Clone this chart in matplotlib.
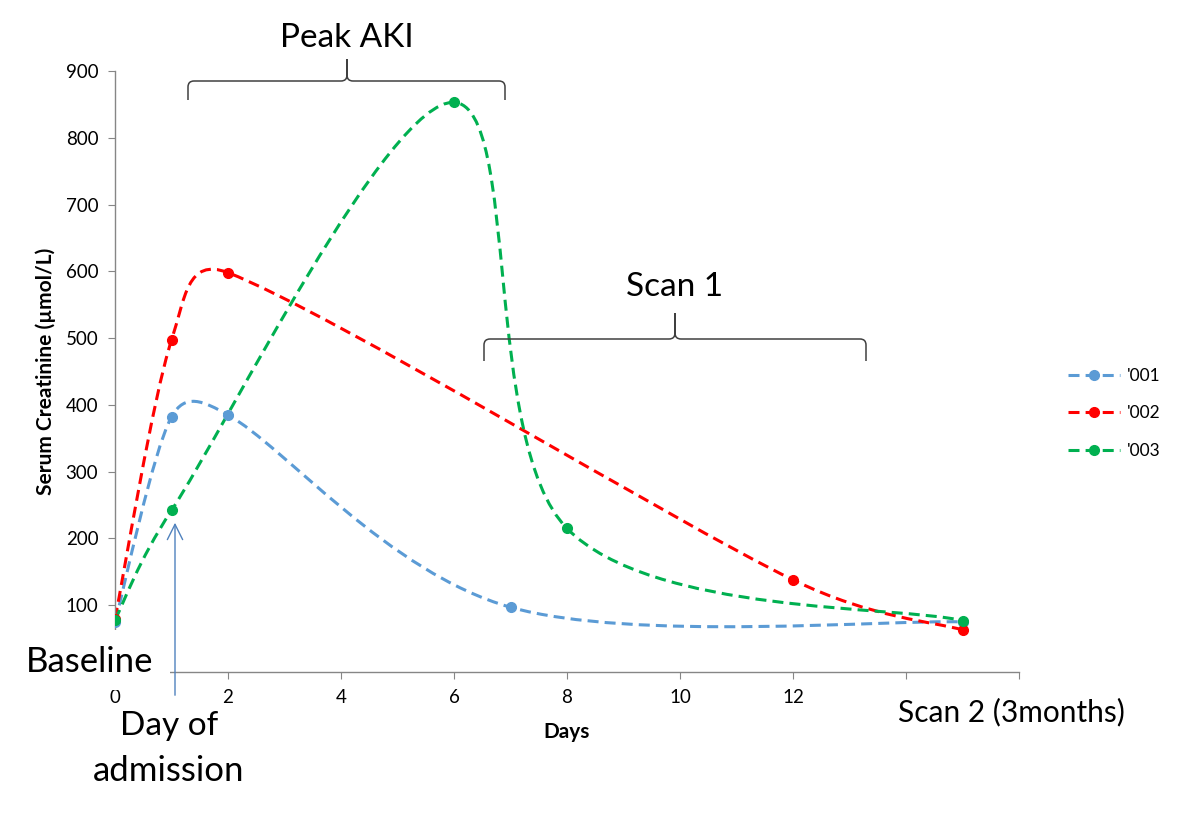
import numpy as np
import matplotlib
matplotlib.use('Agg')
import matplotlib.pyplot as plt
from matplotlib.path import Path
from matplotlib.patches import PathPatch, Rectangle
from matplotlib.lines import Line2D

plt.rcParams['font.family'] = ['Lato', 'DejaVu Sans']

# data
days_001 = [0, 1, 2, 7, 15]
creat_001 = [75, 382, 385, 97, 75]
days_002 = [0, 1, 2, 12, 15]
creat_002 = [80, 497, 598, 138, 63]
days_003 = [0, 1, 6, 8, 15]
creat_003 = [78, 242, 853, 215, 77]
series_names = ["'001", "'002", "'003"]
colors = ['#5b9bd5', '#ff0000', '#00b050']

x_ticks = [0, 2, 4, 6, 8, 10, 12, 14, 16]
x_labels = ['0', '2', '4', '6', '8', '10', '12', '', '']  # 14, 16 sit under the "Scan 2" box
y_ticks = [0, 100, 200, 300, 400, 500, 600, 700, 800, 900]
y_labels = ['', '100', '200', '300', '400', '500', '600', '700', '800', '900']  # 0 hidden by "Baseline"

W, H = 1180, 816


def fpx(x, y):
    # pixel position in the picture -> figure fraction
    return x / W, 1 - y / H


fig = plt.figure(figsize=(W / 100, H / 100), dpi=100)
ax = fig.add_axes([115 / W, 1 - 672 / H, (1019 - 115) / W, (672 - 71) / H])
ax.set_xlim(0, 16)
ax.set_ylim(0, 900)


def excel_smooth(xs, ys):
    # bezier smoothing like Excel's "smoothed line", worked out in screen space
    pts = ax.transData.transform(np.column_stack([xs, ys]).astype(float))
    n = len(pts)
    verts = [pts[0]]
    codes = [Path.MOVETO]
    for i in range(n - 1):
        p0 = pts[max(i - 1, 0)]
        p1 = pts[i]
        p2 = pts[i + 1]
        p3 = pts[min(i + 2, n - 1)]
        half = np.hypot(*(p2 - p1)) / 2
        a1 = (p2 - p0) / 6
        a2 = (p3 - p1) / 6
        l1 = np.hypot(*a1)
        l2 = np.hypot(*a2)
        if l1 > half:
            a1 = a1 * half / l1
        if l2 > half:
            a2 = a2 * half / l2
        verts += [p1 + a1, p2 - a2, p2]
        codes += [Path.CURVE4] * 3
    verts = ax.transData.inverted().transform(np.array(verts))
    return Path(verts, codes)


all_series = [(days_001, creat_001), (days_002, creat_002), (days_003, creat_003)]
handles = []
for (xs, ys), name, c in zip(all_series, series_names, colors):
    patch = PathPatch(excel_smooth(xs, ys), fill=False, edgecolor=c, lw=2.2,
                      linestyle=(0, (3.6, 2.0)), zorder=2)
    ax.add_patch(patch)
    ax.plot(xs, ys, 'o', color=c, ms=7, zorder=3)
    handles.append(Line2D([], [], color=c, lw=2.2, linestyle=(0, (3.6, 2.0)),
                          marker='o', ms=7, label=name))

ax.set_xticks(x_ticks)
ax.set_xticklabels(x_labels)
ax.set_yticks(y_ticks)
ax.set_yticklabels(y_labels)
for s in ['top', 'right']:
    ax.spines[s].set_visible(False)
for s in ['left', 'bottom']:
    ax.spines[s].set_color('#868686')
    ax.spines[s].set_linewidth(1)
ax.tick_params(direction='out', length=5, color='#868686', labelsize=13.5,
               labelcolor='#000000', pad=7)
ax.set_xlabel('Days', fontsize=15, fontweight='bold', labelpad=12)
ax.set_ylabel('Serum Creatinine (µmol/L)', fontsize=15, fontweight='bold', labelpad=7)

leg = fig.legend(handles=handles, loc='upper left', bbox_to_anchor=fpx(1052, 352),
                 bbox_transform=fig.transFigure, frameon=False, fontsize=12.5,
                 handlelength=3.0, numpoints=1, labelspacing=1.25, handletextpad=0.4)


def brace(x0, x1, xm, y_line, y_end, y_tip, r=6):
    pts = [(x0, y_end), (x0, y_line + r), (x0, y_line), (x0 + r, y_line),
           (xm - r, y_line), (xm, y_line), (xm, y_line - r), (xm, y_tip),
           (xm, y_tip), (xm, y_line - r), (xm, y_line), (xm + r, y_line),
           (x1 - r, y_line), (x1, y_line), (x1, y_line + r), (x1, y_end)]
    codes = [Path.MOVETO, Path.LINETO, Path.CURVE3, Path.CURVE3,
             Path.LINETO, Path.CURVE3, Path.CURVE3, Path.LINETO,
             Path.MOVETO, Path.LINETO, Path.CURVE3, Path.CURVE3,
             Path.LINETO, Path.CURVE3, Path.CURVE3, Path.LINETO]
    path = Path([fpx(x, y) for x, y in pts], codes)
    fig.add_artist(PathPatch(path, fill=False, edgecolor='#404040', lw=1.1,
                             transform=fig.transFigure))


brace(188, 505, 347, 81, 100, 59)
brace(484, 866, 675, 339, 361, 313)

fig.text(*fpx(347, 38), 'Peak AKI', fontsize=24, ha='center', va='center')
fig.text(*fpx(675, 287), 'Scan 1', fontsize=24, ha='center', va='center')

# arrow to day of admission
ax.annotate('', xy=fpx(175, 520), xycoords='figure fraction',
            xytext=fpx(175, 698), textcoords='figure fraction',
            arrowprops=dict(arrowstyle='->,head_length=1.1,head_width=0.55',
                            color='#4f81bd', lw=1), annotation_clip=False)

# white text boxes lying over the axes
for x0, y0, x1, y1 in [(18, 630, 170, 690), (88, 708, 268, 805), (880, 688, 1145, 745)]:
    fig.add_artist(Rectangle(fpx(x0, y1), (x1 - x0) / W, (y1 - y0) / H,
                             transform=fig.transFigure, facecolor='white',
                             edgecolor='none', zorder=5))

fig.text(*fpx(26, 662), 'Baseline', fontsize=25, ha='left', va='center', zorder=6)
fig.text(*fpx(169, 726), 'Day of', fontsize=24, ha='center', va='center', zorder=6)
fig.text(*fpx(169, 771), 'admission', fontsize=25, ha='center', va='center', zorder=6)
fig.text(*fpx(1011, 712), 'Scan 2 (3months)', fontsize=21.5, ha='center', va='center', zorder=6)

fig.savefig('out.png', dpi=100, facecolor='white')
